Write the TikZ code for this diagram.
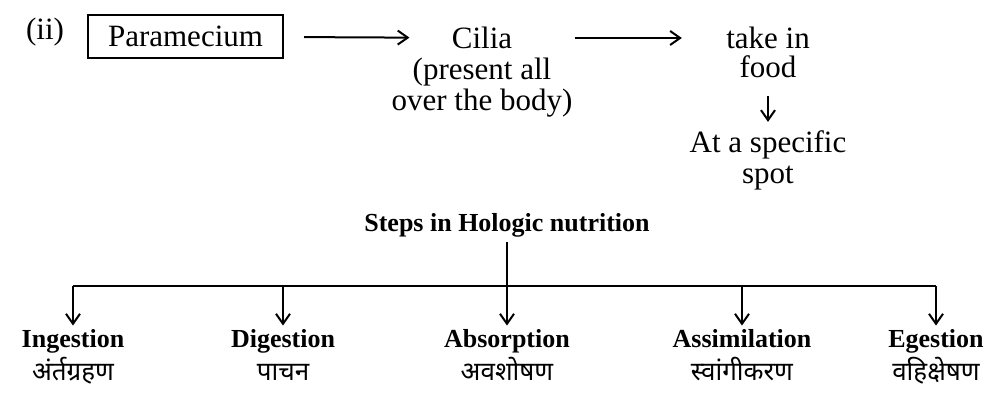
\documentclass[tikz,border=0pt]{standalone}
\usepackage{fontspec}
\setmainfont{Liberation Serif}
\newfontfamily\hindi[Script=Devanagari]{Noto Sans}
\usetikzlibrary{positioning, arrows.meta}
\begin{document}
\begin{tikzpicture}[
        x=0.5pt, y=-0.5pt,
        >={Straight Barb[length=5pt, width=7pt]},
        txtn/.style={align=center, inner sep=0pt, font=\fontsize{15.5}{15.5}\selectfont},
        boxn/.style={draw, line width=1pt, minimum width=97.5pt, minimum height=21.5pt, inner sep=0pt, font=\fontsize{15.5}{15.5}\selectfont},
        stepn/.style={anchor=base, align=center, inner sep=2pt, font=\fontsize{13}{15}\selectfont\bfseries},
        hindin/.style={anchor=base, align=center, inner sep=0pt, font=\fontsize{13}{15}\selectfont\hindi},
        flow/.style={draw, ->, line width=1pt},
        barn/.style={draw, line width=1pt},
    ]
    \useasboundingbox (0,0) rectangle (996,416);
    % top row
    \node[txtn](ii) at (45,32) {(ii)};
    \node[boxn](para) at (185.5,36.5) {Paramecium};
    \node[txtn](cilia) at (482,38) {Cilia};
    \node[txtn, below=4pt of cilia](ciliab) {(present all\\over the body)};
    \node[txtn](take) at (768,38) {take in};
    \node[txtn, below=3pt of take](food) {food};
    \node[txtn](spot) at (768,160) {At a specific\\spot};
    \draw[flow, shorten <=10pt, shorten >=21pt] (para) -- (cilia);
    \draw[flow, shorten <=31pt, shorten >=22pt] (cilia) -- (take);
    \draw[flow, shorten <=9pt, shorten >=4pt] (food) -- (spot);
    % steps
    \node[stepn](root) at (507,232) {Steps in Hologic nutrition};
    \coordinate (bar) at (0,286);
    \node[stepn](ing) at (73,348) {Ingestion};
    \node[stepn](dig) at (283,348) {Digestion};
    \node[stepn](abs) at (507,348) {Absorption};
    \node[stepn](ass) at (742,348) {Assimilation};
    \node[stepn](eges) at (936,348) {Egestion};
    \node[hindin](ingh) at (73,381) {अंर्तग्रहण};
    \node[hindin](digh) at (283,381) {पाचन};
    \node[hindin](absh) at (507,381) {अवशोषण};
    \node[hindin](assh) at (742,381) {स्वांगीकरण};
    \node[hindin](egesh) at (936,381) {वहिक्षेषण};
    \draw[barn] (ing.north |- bar) -- (eges.north |- bar);
    \draw[flow] (root) -- (abs);
    \foreach \n in {ing, dig, ass, eges}
        \draw[flow] (\n.north |- bar) -- (\n);
\end{tikzpicture}
\end{document}
